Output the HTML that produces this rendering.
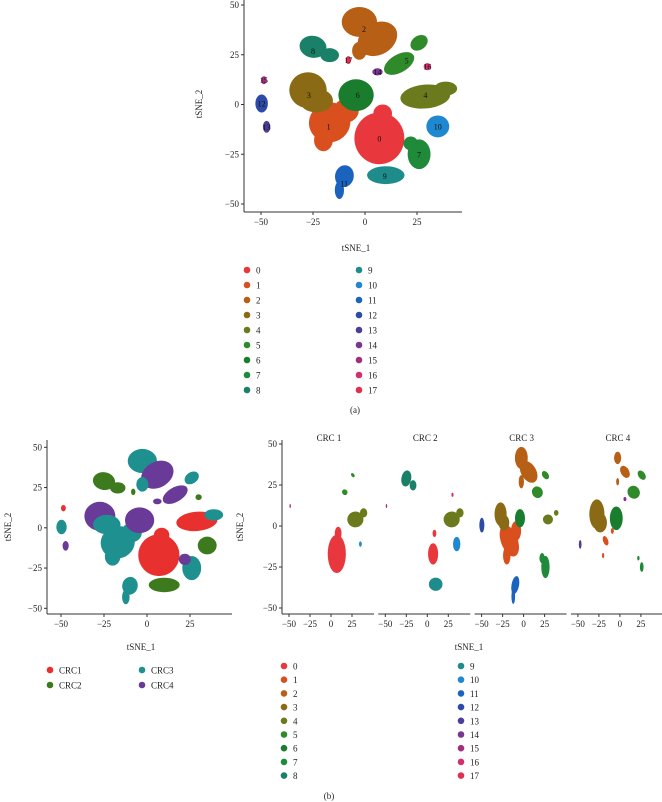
<!DOCTYPE html>
<html><head><meta charset="utf-8">
<style>
html,body{margin:0;padding:0;background:#fff;}
svg{display:block;font-family:"Liberation Serif",serif;}
</style></head>
<body>
<svg id="fig" width="662" height="802" viewBox="0 0 662 802"></svg>
<script>
// ---- data ----
const clusterIds = [0,1,2,3,4,5,6,7,8,9,10,11,12,13,14,15,16,17];
const clusterColors = ["#e8383d","#d9501e","#b85f16","#8a6a14","#6a7a1c","#2f8a2a","#1a7d2d","#1f8a3a","#1a8068","#1f8c8c","#1e88d0","#1a64c0","#2c4aa8","#4a3f98","#7a3590","#a0307e","#d0306e","#e03050"];
const labelX = [6.9,-17.5,-0.5,-27,29,20,-3.5,26,-25,9.5,35,-10,-49.7,-47.3,6,-48.6,30,-8];
const labelY = [-17,-11,38,4.7,4.7,22,4.7,-25,27,-36,-11,-39.7,0.5,-11.2,16.4,12.2,19,22.3];
// blobs: cluster, x, y, rx, ry, rotation
const blobCluster = [0,0,1,1,1,2,2,2,3,3,4,4,5,5,6,7,7,8,8,9,10,11,11,12,13,14,15,16,17];
const blobX  = [6.9,8.5,-17,-9,-20,-2.7,6,-2.7,-27.4,-23.4,29,38.8,16.4,26,-4.3,26,22,-25,-17,10,35,-9.9,-12.3,-49.7,-47.3,6,-48.6,30,-8];
const blobY  = [-17,-4.5,-9,-3,-18,41.5,33,27,7.2,2,4,8,20.6,31,4.7,-25,-19.6,29,24.8,-35.5,-11,-36,-43,0.5,-11.2,16.4,12.2,19,22.3];
const blobRX = [12,4.5,10,6,4.5,8.5,10,3.5,9,8,12,5.5,8,4.5,8.5,5.5,3.5,6.5,4.5,9,5.5,4.5,2.2,3,1.8,2.5,1.4,1.8,1.3];
const blobRY = [13,4.5,10,6,5.5,7.5,8,4.5,9,6,6,3.5,4.5,3.5,8,7.5,3.5,5.5,3.5,4.5,5.5,5.5,4.5,4.5,3,1.8,2,1.8,2];
const blobRot= [0,0,-20,0,0,0,-30,0,0,0,-5,0,-30,-35,0,0,0,10,0,0,0,10,0,0,0,0,0,0,0];
const sampleNames = ["CRC1","CRC2","CRC3","CRC4"];
const sampleColors = ["#e8302e","#3d7a1e","#1f9090","#6a3a98"];
const blobSample = [0,0,2,2,2,2,3,2,3,2,0,2,3,2,3,2,3,1,1,1,1,2,2,2,3,3,0,1,1];
const xTicks = [-50,-25,0,25];
const yTicks = [-50,-25,0,25,50];
const facetNames = ["CRC 1","CRC 2","CRC 3","CRC 4"];
const facetClusters = [[0,4,5,10,15],[8,0,9,4,10,15,16],[2,3,1,6,5,4,7,11,12],[2,3,6,5,13,7,14,1]];
const facetScale = [[0.9,0.8,0.4,0.3,0.6],[0.9,0.5,0.9,0.8,0.8,0.6,0.7],[0.9,0.8,1,0.7,0.8,0.5,0.9,1,1],[0.5,1,0.9,0.9,0.9,0.4,0.7,0.3]];

const NS="http://www.w3.org/2000/svg";
const svg=document.getElementById('fig');
function mk(tag,attrs,parent){const e=document.createElementNS(NS,tag);for(const k in attrs)e.setAttribute(k,attrs[k]);(parent||svg).appendChild(e);return e;}
function txt(s,x,y,size,anchor,parent){const t=mk('text',{x:x,y:y,'font-size':size,'text-anchor':anchor||'middle',fill:'#222'},parent);t.textContent=s;return t;}

function drawPanel(g,sx,sy,x0,x1,yTop,yBot,showY,ids,scaleArr,colorFn,labels){
  blobCluster.forEach((cid,b)=>{
    const idx=ids.indexOf(cid); if(idx<0) return;
    const sc=scaleArr?scaleArr[idx]:1;
    const cx=sx(blobX[b]),cy=sy(blobY[b]);
    const rx=Math.abs(sx(blobRX[b]*sc)-sx(0)),ry=Math.abs(sy(blobRY[b]*sc)-sy(0));
    const e=mk('ellipse',{cx:cx,cy:cy,rx:rx,ry:ry,fill:colorFn(b),transform:`rotate(${blobRot[b]} ${cx} ${cy})`},g);
    
    
  });
  if(labels){ids.forEach(id=>{const t=txt(String(id),sx(labelX[id]),sy(labelY[id])+3,8,'middle',g);t.setAttribute('fill','#111');
      });}
  const ax=mk('g',{},g);
  mk('line',{x1:x0,x2:x1,y1:yBot,y2:yBot,stroke:'#333','stroke-width':1},ax);
  xTicks.forEach(v=>{mk('line',{x1:sx(v),x2:sx(v),y1:yBot,y2:yBot+3,stroke:'#333'},ax);
    const t=txt(v<0?'\u2212'+(-v):String(v),sx(v),yBot+13,9,'middle',ax);
    });
  if(showY){const ay=mk('g',{},g);
    mk('line',{x1:x0,x2:x0,y1:yTop,y2:yBot,stroke:'#333'},ay);
    yTicks.forEach(v=>{mk('line',{x1:x0-3,x2:x0,y1:sy(v),y2:sy(v),stroke:'#333'},ay);
      const t=txt(v<0?'\u2212'+(-v):String(v),x0-5,sy(v)+3,9,'end',ay);
      });}
}

// Panel A
const gA=mk('g',{});
drawPanel(gA,v=>365+v*2.08,v=>104.5-v*1.99,244,462,0,212,true,clusterIds,null,b=>clusterColors[blobCluster[b]],true);
let t=txt('tSNE_2',0,0,9,'middle');t.setAttribute('transform','translate(202,104) rotate(-90)');

t=txt('tSNE_1',356,251,9);
clusterIds.forEach((id,i)=>{const col=i<9?0:1,row=i%9;const x=col?359:247,y=270+row*15;
  const g=mk('g',{});
  mk('circle',{cx:x,cy:y,r:3.3,fill:clusterColors[id]},g);txt(String(id),x+9,y+3.5,9,'start',g);});
t=txt('(a)',355,413,9);

// Panel B left
const gB=mk('g',{});
drawPanel(gB,v=>147+v*1.72,v=>527.8-v*1.61,47,232,440,614,true,clusterIds,null,b=>sampleColors[blobSample[b]],false);
t=txt('tSNE_2',0,0,9);t.setAttribute('transform','translate(11,527) rotate(-90)');

t=txt('tSNE_1',141,650,9);
sampleNames.forEach((n,i)=>{const x=i<2?50:142,y=670+(i%2)*15;
  const g=mk('g',{});
  mk('circle',{cx:x,cy:y,r:3.3,fill:sampleColors[i]},g);txt(n,x+9,y+3.5,9,'start',g);});

// Facets
facetNames.forEach((n,f)=>{
  const base=289+f*96.3,zero=base+42;
  const g=mk('g',{});
  drawPanel(g,v=>zero+v*0.84,v=>526-v*1.64,base-7,base+85,440,614,f===0,facetClusters[f],facetScale[f],b=>clusterColors[blobCluster[b]],false);
  const s=txt(n,base+40,441,9,'middle',g);
});
t=txt('tSNE_2',0,0,9);t.setAttribute('transform','translate(243,527) rotate(-90)');

t=txt('tSNE_1',469,650,9);
clusterIds.forEach((id,i)=>{const col=i<9?0:1,row=i%9;const x=col?461:284,y=666+row*13.7;
  const g=mk('g',{});
  mk('circle',{cx:x,cy:y,r:3.3,fill:clusterColors[id]},g);txt(String(id),x+9,y+3.5,9,'start',g);});
t=txt('(b)',329,799,9);
</script>
</body></html>
